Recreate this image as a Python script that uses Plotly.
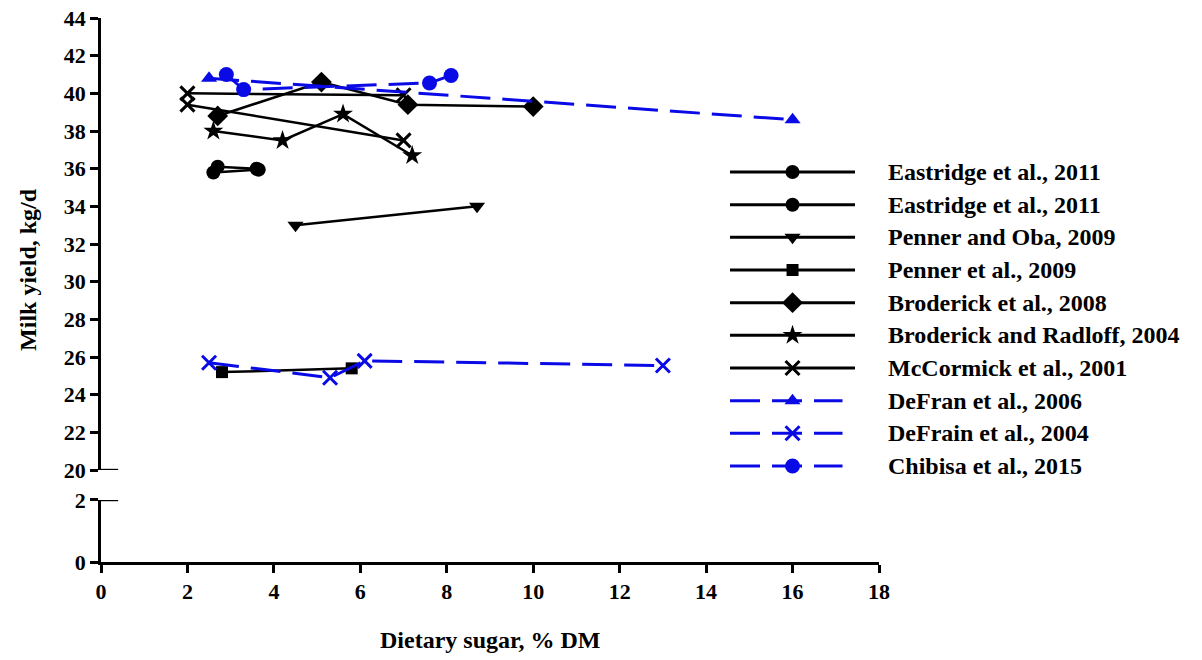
import plotly.graph_objects as go

# ---------------- data ----------------
eastridge_a_x = [2.6, 3.65]
eastridge_a_y = [35.8, 35.95]
eastridge_b_x = [2.7, 3.6]
eastridge_b_y = [36.1, 36.0]
penner_oba_x = [4.5, 8.7]
penner_oba_y = [33.0, 34.0]
penner_x = [2.8, 5.8]
penner_y = [25.2, 25.4]
broderick08_x = [2.7, 5.1, 7.1, 10.0]
broderick08_y = [38.8, 40.6, 39.4, 39.3]
brod_radloff_x = [2.6, 4.2, 5.6, 7.2]
brod_radloff_y = [38.0, 37.5, 38.9, 36.7]
mccormick_a_x = [2.0, 7.0]
mccormick_a_y = [40.0, 39.9]
mccormick_b_x = [2.0, 7.0]
mccormick_b_y = [39.4, 37.5]
defran06_x = [2.5, 16.0]
defran06_y = [40.8, 38.6]
defrain04_x = [2.5, 5.3, 6.1, 13.0]
defrain04_y = [25.7, 24.9, 25.8, 25.55]
chibisa_x = [2.9, 3.3, 7.6, 8.1]
chibisa_y = [41.0, 40.2, 40.55, 40.95]

legend_labels = [
    "Eastridge et al., 2011",
    "Eastridge et al., 2011",
    "Penner and Oba, 2009",
    "Penner et al., 2009",
    "Broderick et al., 2008",
    "Broderick and Radloff, 2004",
    "McCormick et al., 2001",
    "DeFran et al., 2006",
    "DeFrain et al., 2004",
    "Chibisa et al., 2015",
]

x_ticks = [0, 2, 4, 6, 8, 10, 12, 14, 16, 18]
y_upper_ticks = [20, 22, 24, 26, 28, 30, 32, 34, 36, 38, 40, 42, 44]
y_lower_ticks = [0, 2]

BLACK = "#000000"
BLUE = "#0A0AE6"
FONT = "Liberation Serif, Times New Roman, serif"

# style per legend entry: (color, dash, symbol, size)
styles = [
    (BLACK, "solid", "circle", 14),
    (BLACK, "solid", "circle", 14),
    (BLACK, "solid", "triangle-down", 14),
    (BLACK, "solid", "square", 12),
    (BLACK, "solid", "diamond", 16),
    (BLACK, "solid", "star", 15),
    (BLACK, "solid", "x-thin", 14),
    (BLUE, "30px,12px", "triangle-up", 14),
    (BLUE, "30px,12px", "x-thin", 14),
    (BLUE, "30px,12px", "circle", 15),
]

series = [
    (eastridge_a_x, eastridge_a_y, 0),
    (eastridge_b_x, eastridge_b_y, 1),
    (penner_oba_x, penner_oba_y, 2),
    (penner_x, penner_y, 3),
    (broderick08_x, broderick08_y, 4),
    (brod_radloff_x, brod_radloff_y, 5),
    (mccormick_a_x, mccormick_a_y, 6),
    (mccormick_b_x, mccormick_b_y, 6),
    (defran06_x, defran06_y, 7),
    (defrain04_x, defrain04_y, 8),
    (chibisa_x, chibisa_y, 9),
]


def marker_dict(idx):
    color, dash, symbol, size = styles[idx]
    m = dict(symbol=symbol, size=size, color=color)
    if symbol == "x-thin":
        m["line"] = dict(color=color, width=3)
    else:
        m["line"] = dict(color=color, width=0)
    return m


fig = go.Figure()

for xs, ys, idx in series:
    color, dash, symbol, size = styles[idx]
    fig.add_trace(go.Scatter(
        x=xs, y=ys, mode="lines+markers", xaxis="x2", yaxis="y2",
        line=dict(color=color, width=3 if color == BLUE else 2.5, dash=dash),
        marker=marker_dict(idx), showlegend=False, cliponaxis=False,
        hoverinfo="skip",
    ))

# invisible trace to anchor the lower subplot
fig.add_trace(go.Scatter(x=[None], y=[None], xaxis="x", yaxis="y",
                         showlegend=False, hoverinfo="skip"))

# custom legend drawn on its own hidden axes
for i, label in enumerate(legend_labels):
    color, dash, symbol, size = styles[i]
    x_end = 1.0 if color == BLACK else 0.9
    fig.add_trace(go.Scatter(
        x=[0, x_end], y=[i, i], mode="lines", xaxis="x3", yaxis="y3",
        line=dict(color=color, width=3, dash=dash),
        showlegend=False, hoverinfo="skip", cliponaxis=False,
    ))
    fig.add_trace(go.Scatter(
        x=[0.5], y=[i], mode="markers", xaxis="x3", yaxis="y3",
        marker=marker_dict(i), showlegend=False, hoverinfo="skip",
        cliponaxis=False,
    ))
    fig.add_annotation(
        x=1, y=i, xref="x3", yref="y3", xshift=31, xanchor="left",
        yanchor="middle", showarrow=False, text="<b>" + label + "</b>",
        font=dict(family=FONT, size=24, color=BLACK),
    )

tickfont = dict(family=FONT, size=22, color=BLACK, weight="bold")
axis_common = dict(showgrid=False, zeroline=False, showline=True,
                   linecolor=BLACK, linewidth=2.5, ticks="outside",
                   ticklen=8, tickwidth=2.5, tickcolor=BLACK, tickfont=tickfont,
                   automargin=False, ticklabeloverflow="allow")

fig.update_layout(
    template="none",
    width=1202, height=660,
    margin=dict(l=101, r=323, t=18, b=98, pad=0),
    paper_bgcolor="white", plot_bgcolor="white",
    xaxis=dict(domain=[0, 1], range=[0, 18], tickvals=x_ticks, anchor="y",
               **axis_common),
    yaxis=dict(domain=[0, 0.114], range=[0, 2], tickvals=y_lower_ticks,
               anchor="x", **axis_common),
    xaxis2=dict(domain=[0, 1], range=[0, 18], anchor="y2", visible=False,
                matches="x", automargin=False),
    yaxis2=dict(domain=[0.169, 1], range=[20, 44], tickvals=y_upper_ticks,
                anchor="x", **axis_common),
    xaxis3=dict(domain=[0.8085, 0.9692], range=[0, 1], visible=False,
                anchor="y3", fixedrange=True, automargin=False),
    yaxis3=dict(domain=[0.1465, 0.7469], range=[9.5, -0.5], visible=False,
                anchor="x3", fixedrange=True, automargin=False),
    showlegend=False,
)

# axis break marks (extend the 20 and 2 ticks to the inside)
for yref, yv in (("y2", 20), ("y", 2)):
    fig.add_shape(type="line", xref="x domain", yref=yref, x0=0, x1=0.022,
                  y0=yv, y1=yv, line=dict(color=BLACK, width=2.5))

fig.add_annotation(
    text="<b>Dietary sugar, % DM</b>", xref="paper", yref="paper",
    x=0.5, y=-0.143, xanchor="center", yanchor="middle", showarrow=False,
    font=dict(family=FONT, size=24, color=BLACK),
)
fig.add_annotation(
    text="<b>Milk yield, kg/d</b>", xref="paper", yref="paper",
    x=-0.0938, y=0.537, xanchor="center", yanchor="middle", showarrow=False,
    textangle=-90, font=dict(family=FONT, size=24, color=BLACK),
)

# remove the default 8px page margin so the figure fills the window exactly
fig.write_html(
    "out.html",
    config={"displayModeBar": False},
    post_script="document.body.style.margin='0';"
                "document.documentElement.style.overflow='hidden';",
)
